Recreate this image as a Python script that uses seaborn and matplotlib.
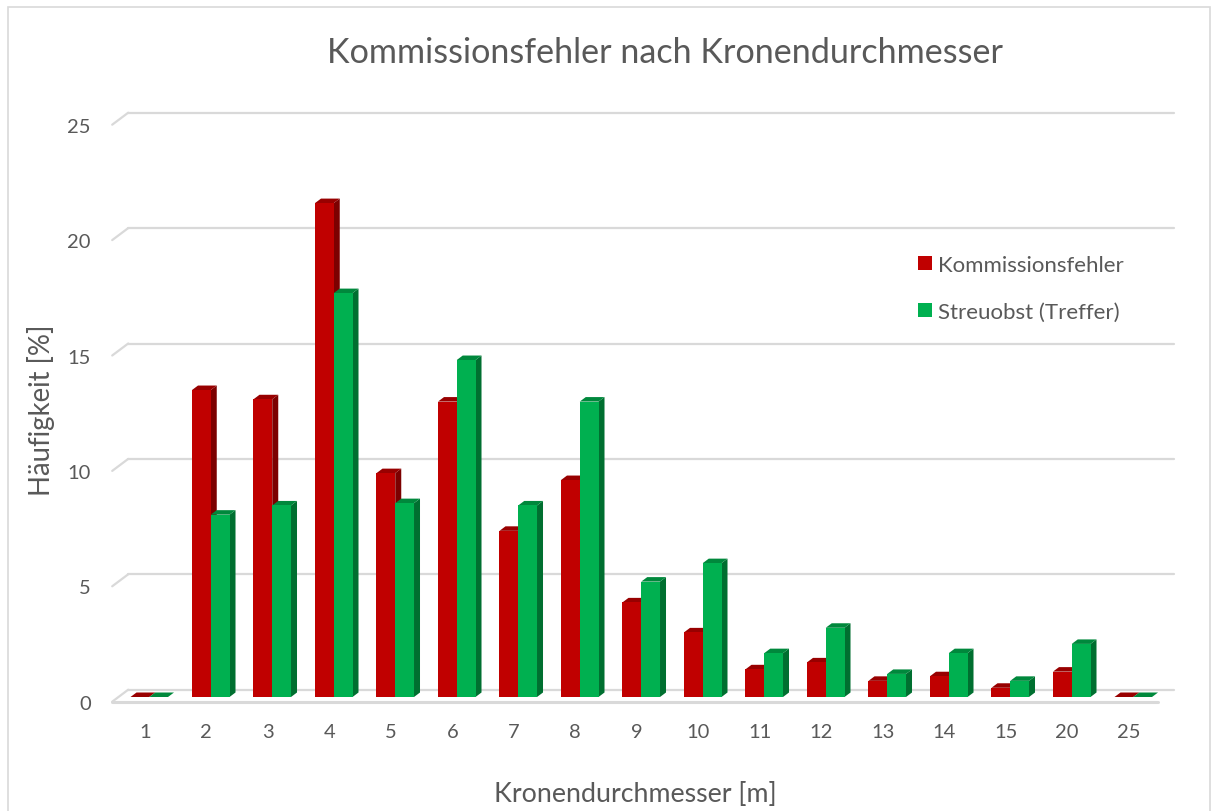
import pandas as pd
import matplotlib
matplotlib.use('Agg')
import matplotlib.pyplot as plt
import matplotlib.transforms as mtransforms
from matplotlib.patches import Polygon, Rectangle
from matplotlib.lines import Line2D
import seaborn as sns

# Data (percent)
durchmesser = ['1', '2', '3', '4', '5', '6', '7', '8', '9', '10',
               '11', '12', '13', '14', '15', '20', '25']
kommissionsfehler = [0.0, 13.3, 12.9, 21.4, 9.7, 12.8, 7.2, 9.4, 4.1, 2.8,
                     1.2, 1.5, 0.7, 0.9, 0.4, 1.1, 0.0]
streuobst = [0.0, 7.9, 8.3, 17.5, 8.4, 14.6, 8.3, 12.8, 5.0, 5.8,
             1.9, 3.0, 1.0, 1.9, 0.7, 2.3, 0.0]
serien = ['Kommissionsfehler', 'Streuobst (Treffer)']
y_ticks = [0, 5, 10, 15, 20, 25]

farben = ['#C00000', '#00B050']
seiten = ['#7C0000', '#006F30']
oben = ['#980000', '#00883C']
grau = '#595959'
linie = '#D9D9D9'

df = pd.DataFrame({
    'Kronendurchmesser': durchmesser * 2,
    'Häufigkeit': kommissionsfehler + streuobst,
    'Serie': [serien[0]] * len(durchmesser) + [serien[1]] * len(durchmesser),
})

sns.set_theme(style='white')
plt.rcParams['font.family'] = ['Lato', 'DejaVu Sans']

W, H, DPI = 1214, 812, 100
fig = plt.figure(figsize=(W / DPI, H / DPI), dpi=DPI)
ax = fig.add_axes([118.5 / W, 1 - 698 / H, 1045.5 / W, 577 / H])

sns.barplot(data=df, x='Kronendurchmesser', y='Häufigkeit', hue='Serie',
            order=durchmesser, hue_order=serien, palette=farben,
            saturation=1, width=0.61, errorbar=None, linewidth=0,
            ax=ax, zorder=3)
ax.set_xlim(-0.5, len(durchmesser) - 0.5)
ax.set_ylim(0, 25)
ax.set_yticks(y_ticks)
sns.despine(ax=ax, left=True, bottom=True)
ax.grid(False)
ax.set_xlabel('')
ax.set_ylabel('')
ax.get_legend().remove()

# pixel -> data conversion for the pseudo-3D faces
px_x = (ax.get_xlim()[1] - ax.get_xlim()[0]) / 1045.5
px_y = 25 / 577
tiefe_x, tiefe_y = 6 * px_x, 4.5 * px_y

for i, cont in enumerate(ax.containers):
    for bar in cont:
        x0, w, h = bar.get_x(), bar.get_width(), bar.get_height()
        x1 = x0 + w
        side = Polygon([(x1, 0), (x1 + tiefe_x, tiefe_y), (x1 + tiefe_x, h + tiefe_y), (x1, h)],
                       closed=True, facecolor=seiten[i], edgecolor='none', zorder=2.8)
        top = Polygon([(x0, h), (x1, h), (x1 + tiefe_x, h + tiefe_y), (x0 + tiefe_x, h + tiefe_y)],
                      closed=True, facecolor=oben[i], edgecolor='none', zorder=2.8)
        ax.add_patch(side)
        ax.add_patch(top)

# back wall gridlines and floor
back = mtransforms.ScaledTranslation(9.7 / DPI, 7.3 / DPI, fig.dpi_scale_trans)
front = mtransforms.ScaledTranslation(-6.3 / DPI, -4.7 / DPI, fig.dpi_scale_trans)
yt = ax.get_yaxis_transform()
for v in y_ticks:
    ax.add_line(Line2D([0, 1], [v, v], transform=yt + back, color=linie, lw=1.6,
                       clip_on=False, zorder=1))
    # diagonal stub from front to back
    p0 = (yt + front).transform((0, v))
    p1 = (yt + back).transform((0, v))
    ax.add_line(Line2D([p0[0], p1[0]], [p0[1], p1[1]], transform=None, color=linie,
                       lw=1.6, clip_on=False, zorder=1))
ax.add_line(Line2D([0, 1], [0, 0], transform=yt + front, color=linie, lw=2.2,
                   clip_on=False, zorder=1))

# tick labels
ax.tick_params(axis='x', length=0, pad=19, labelsize=14.5, labelcolor=grau)
ax.tick_params(axis='y', length=0, pad=20, labelsize=14.5, labelcolor=grau)
for lab in ax.get_xticklabels():
    lab.set_transform(lab.get_transform() + mtransforms.ScaledTranslation(-4.5 / DPI, 0, fig.dpi_scale_trans))
for lab in ax.get_yticklabels():
    lab.set_transform(lab.get_transform() + mtransforms.ScaledTranslation(0, -4.7 / DPI, fig.dpi_scale_trans))

# legend
handles = [Rectangle((0, 0), 1, 1, facecolor=c, edgecolor='none') for c in farben]
fig.legend(handles, serien, loc='upper left', bbox_to_anchor=(918 / W, 1 - 256 / H),
           bbox_transform=fig.transFigure, frameon=False, fontsize=16,
           handlelength=0.63, handleheight=0.63, handletextpad=0.25,
           labelspacing=1.2, borderpad=0, borderaxespad=0, labelcolor=grau)

# titles
fig.text(665 / W, 1 - 53 / H, 'Kommissionsfehler nach Kronendurchmesser',
         ha='center', va='center', fontsize=24.6, color=grau)
fig.text(635 / W, 1 - 795 / H, 'Kronendurchmesser [m]', ha='center', va='center',
         fontsize=19.3, color=grau)
fig.text(41 / W, 1 - 410 / H, 'Häufigkeit [%]', ha='center', va='center',
         rotation=90, fontsize=19.8, color=grau)

# chart border
fig.patches.append(Rectangle((8 / W, -0.01), 1202 / W, 1 - 8 / H + 0.01,
                             transform=fig.transFigure, fill=False,
                             edgecolor=linie, lw=1.2))

fig.savefig('out.png', dpi=DPI, facecolor='white')
